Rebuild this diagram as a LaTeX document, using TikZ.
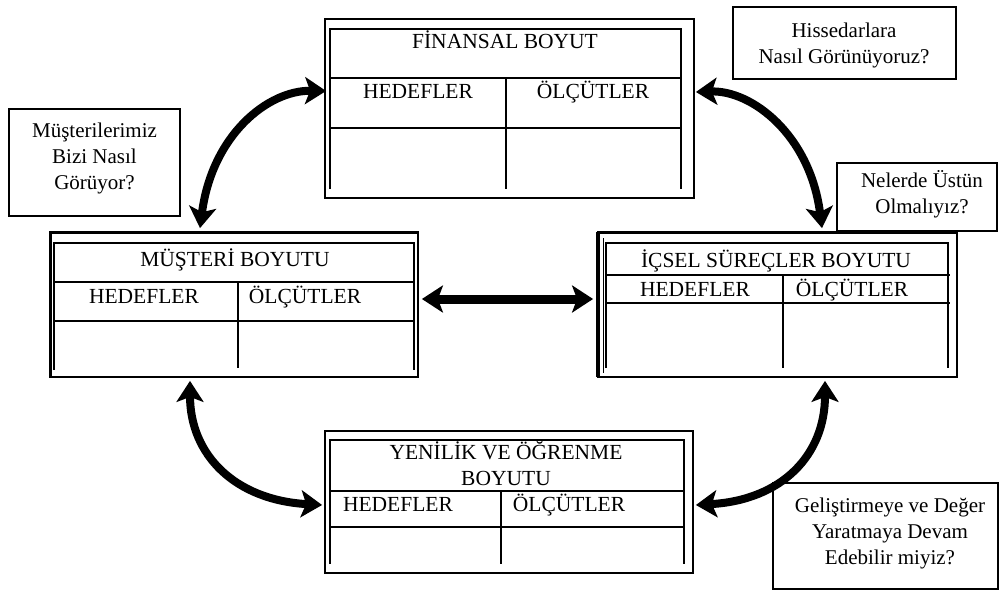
\documentclass[tikz,border=0pt]{standalone}
\usepackage{fontspec}
\setmainfont{Liberation Serif}
\usetikzlibrary{arrows.meta,calc}
\begin{document}
\begin{tikzpicture}[x=1pt,y=-1pt,
  frame/.style={draw,line width=1.8pt,rectangle,inner sep=0pt},
  grid/.style={line width=1.3pt},
  heavy/.style={line width=3pt},
  lbl/.style={anchor=base,inner sep=0pt,font=\fontsize{21.5}{26}\selectfont},
  note/.style={draw,line width=1.4pt,rectangle,inner sep=0pt},
  notetext/.style={anchor=north,inner sep=0pt,align=center,font=\fontsize{21}{26}\selectfont},
  tip/.style={Stealth[length=21pt,width=27pt,inset=5pt]},
  link/.style={line width=8pt,{Stealth[length=21pt,width=27pt,inset=5pt]}-{Stealth[length=21pt,width=27pt,inset=5pt]}}
]
\useasboundingbox (0,0) rectangle (1001,592);
\fill[white] (0,0) rectangle (1001,592);

% ---- outer frames of the four perspectives
\node[frame, minimum width=369pt, minimum height=179pt] (fin) at (509.5,108.5) {};
\node[frame, minimum width=368pt, minimum height=145pt] (mus) at (234,304.5) {};
\node[frame, minimum width=359pt, minimum height=145pt] (ics) at (777.5,304.5) {};
\node[frame, minimum width=368pt, minimum height=142pt] (yen) at (509,502) {};

% heavier top/left edges
\draw[heavy] (50,232) -- (418,232);
\draw[heavy] (50,232) -- (50,377);
\draw[heavy] (598,232) -- (957,232);
\draw[line width=3.5pt] (598,232) -- (598,377);
\draw[line width=1pt] (603,238) -- (603,373);

% ---- inner tables
% financial
\draw[grid] (330,189) -- (330,29) -- (681,29) -- (681,189);
\draw[grid] (330,78) -- (681,78) (330,128) -- (681,128) (506,78) -- (506,189);
% customer
\draw[grid] (54,370) -- (54,243) -- (414,243) -- (414,370);
\draw[grid] (54,282) -- (414,282) (54,321) -- (414,321) (238,282) -- (238,368);
% internal processes
\draw[grid] (606,368) -- (606,243) -- (948,243) -- (948,368);
\draw[grid] (606,275) -- (950,275) (606,303) -- (950,303) (783,275) -- (783,368);
% learning and growth
\draw[grid] (330,564) -- (330,440) -- (684,440) -- (684,564);
\draw[grid] (330,491) -- (684,491) (330,527) -- (684,527) (501,491) -- (501,564);

% ---- table texts
\node[lbl] (fin-t) at (505,48) {FİNANSAL BOYUT};
\node[lbl] (fin-h) at (418,98) {HEDEFLER};
\node[lbl] (fin-o) at (593,98) {ÖLÇÜTLER};

\node[lbl] (mus-t) at (235,266) {MÜŞTERİ BOYUTU};
\node[lbl] (mus-h) at (144,303) {HEDEFLER};
\node[lbl] (mus-o) at (305,303) {ÖLÇÜTLER};

\node[lbl] (ics-t) at (776,267) {İÇSEL SÜREÇLER BOYUTU};
\node[lbl] (ics-h) at (695,296) {HEDEFLER};
\node[lbl] (ics-o) at (852,296) {ÖLÇÜTLER};

\node[lbl, anchor=north, align=center] (yen-t) at (506,440.8) {\strut YENİLİK VE ÖĞRENME\\ \strut BOYUTU};
\node[lbl] (yen-h) at (398,511) {HEDEFLER};
\node[lbl] (yen-o) at (569,511) {ÖLÇÜTLER};

% ---- question callouts
\node[note, minimum width=171pt, minimum height=107pt] (q1) at (94.5,162.5) {};
\node[notetext] (q1t) at (94.5,118.8) {\strut Müşterilerimiz\\ \strut Bizi Nasıl\\ \strut Görüyor?};

\node[note, minimum width=223pt, minimum height=72pt] (q2) at (844.5,43) {};
\node[notetext] (q2t) at (844,18.8) {\strut Hissedarlara\\ \strut Nasıl Görünüyoruz?};

\node[note, minimum width=160pt, minimum height=68pt] (q3) at (917,197) {};
\node[notetext] (q3t) at (922,168.8) {\strut Nelerde Üstün\\ \strut Olmalıyız?};

\node[note, minimum width=225pt, minimum height=106pt] (q4) at (885.5,536) {};
\node[notetext] (q4t) at (890,493.8) {\strut Geliştirmeye ve Değer\\ \strut Yaratmaya Devam\\ \strut Edebilir miyiz?};

% ---- connector end points on the frames
\coordinate (a1a) at ([xshift=-34pt,yshift=3pt]mus.north);
\coordinate (a1b) at ([xshift=2pt,yshift=17.5pt]fin.west);
\coordinate (a2a) at ([xshift=1pt,yshift=16.5pt]fin.east);
\coordinate (a2b) at ([xshift=44.5pt,yshift=3pt]ics.north);
\coordinate (a3a) at ([xshift=3pt,yshift=5.5pt]mus.east);
\coordinate (a3b) at ([xshift=-4pt,yshift=5.5pt]ics.west);
\coordinate (a4a) at ([xshift=-44pt,yshift=-3pt]mus.south);
\coordinate (a4b) at ([xshift=-2pt,yshift=-3pt]yen.west);
\coordinate (a5a) at ([xshift=47.5pt,yshift=-3pt]ics.south);
\coordinate (a5b) at ([xshift=2pt,yshift=-3pt]yen.east);

% ---- two-headed connectors
\draw[link] (a1a) .. controls (212,135) and (268,90) .. (a1b);
\draw[link] (a2a) .. controls (752,90) and (810,135) .. (a2b);
\draw[link, line width=9pt] (a3a) -- (a3b);
\draw[link] (a4a) .. controls (190,455) and (235,500) .. (a4b);
\draw[link] (a5a) .. controls (825,455) and (782,500) .. (a5b);
\end{tikzpicture}
\end{document}
